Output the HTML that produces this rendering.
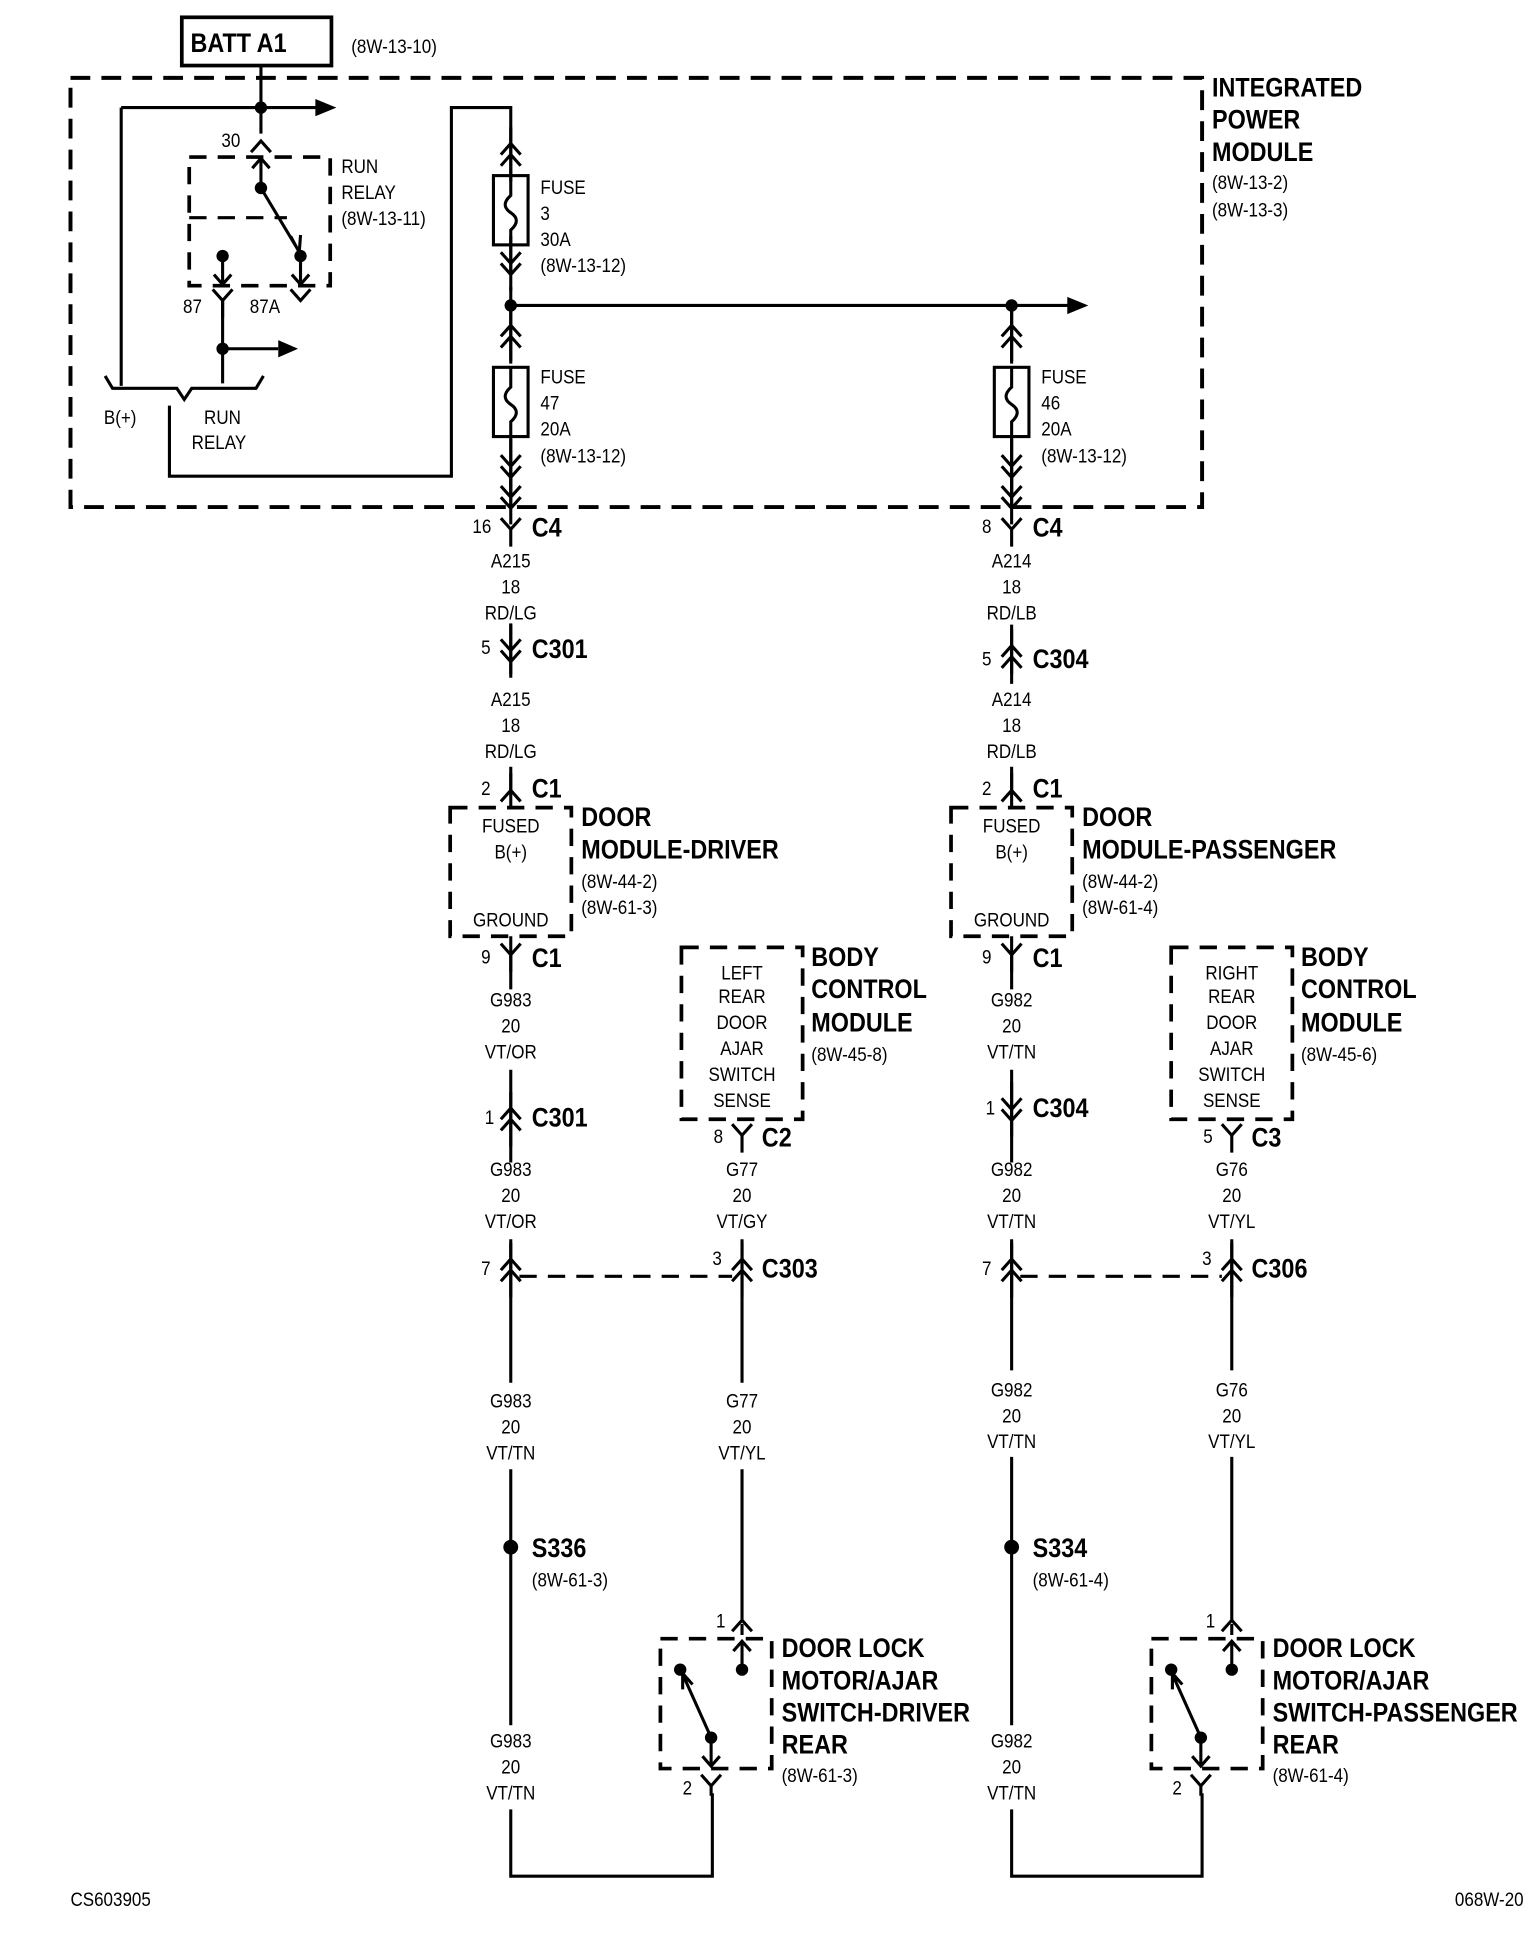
<!DOCTYPE html>
<html><head><meta charset="utf-8"><style>
html,body{margin:0;padding:0;background:#fff;}
svg{display:block;}
text{font-family:"Liberation Sans Narrow","Liberation Sans",sans-serif;fill:#000;transform-box:fill-box;transform-origin:0 50%;transform:scaleX(.86);}
text.m{transform-origin:50% 50%;}
text.e{transform-origin:100% 50%;}
.s{font-size:16px;}
.b{font-size:22px;font-weight:bold;}
.m{text-anchor:middle;}
</style></head><body>
<svg width="1536" height="1938" viewBox="0 0 1242 1567" preserveAspectRatio="none" xmlns="http://www.w3.org/2000/svg">
<defs>
<g id="Y" fill="none" stroke="#000" stroke-width="2.5"><path d="M-8,-9 L0,0 L8,-9 M0,0 V14"/></g>
<g id="L" fill="none" stroke="#000" stroke-width="2.5"><path d="M-8,9 L0,0 L8,9 M0,0 V-14"/></g>
<g id="UU" fill="none" stroke="#000" stroke-width="2.5"><path d="M-8,0 L0,-9 L8,0 M-8,9 L0,0 L8,9 M0,-22 V22"/></g>
<g id="DD" fill="none" stroke="#000" stroke-width="2.5"><path d="M-8,0 L0,9 L8,0 M-8,-9 L0,0 L8,-9 M0,-22 V22"/></g>
<g id="U" fill="none" stroke="#000" stroke-width="2.5"><path d="M-8,6 L0,-3 L8,6"/></g>
<g id="V" fill="none" stroke="#000" stroke-width="2.5"><path d="M-8,-6 L0,3 L8,-6"/></g>
<g id="fuse" fill="none" stroke="#000" stroke-width="2.5"><rect x="-14" y="0" width="28" height="56"/><path d="M0,0 V16 Q-9,24 0,30 Q9,36 0,44 V56"/></g>
</defs>
<g fill="none" stroke="#000" stroke-width="2.5">
<rect x="147" y="14" width="121" height="39" stroke-width="3"/>
<rect x="57" y="63" width="915" height="347" stroke-width="3.2" stroke-dasharray="16,9"/>
<path d="M211,53 V108"/>
<path d="M98,87 H258"/>
<path d="M98,87 V312"/>
<rect x="153" y="127" width="114" height="104" stroke-width="3" stroke-dasharray="14,9"/>
<path d="M153,176 H232" stroke-dasharray="14,9"/>
<path d="M211,152 V128 M204,136 L211,128 L218,136"/>
<path d="M211,152 L241,202 M235,191 L242,204 L243,190"/>
<path d="M180,207 V230 M173,222 L180,230 L187,222"/>
<path d="M243,207 V230 M236,222 L243,230 L250,222"/>
<path d="M180,243 V310"/>
<path d="M180,282 H225"/>
<path d="M85,304 L91,314 H143 L149,323 L155,314 H207 L213,304"/>
<path d="M137,328 V385 H365 V87 H413 V130"/>
<path d="M413,130 V142 M413,198 V222"/>
<path d="M413,232 V292 M413,352 V410"/>
<path d="M413,247 H865"/>
<path d="M818,252 V292 M818,352 V410"/>
</g>
<g fill="#000">
<circle cx="211" cy="87" r="5"/><circle cx="211" cy="152" r="5"/><circle cx="180" cy="207" r="5"/><circle cx="243" cy="207" r="5"/><circle cx="180" cy="282" r="5"/>
<circle cx="413" cy="247" r="5"/><circle cx="818" cy="247" r="5"/>
<path d="M255,80 L272,87 L255,94Z"/><path d="M225,275 L241,282 L225,289Z"/><path d="M863,240 L880,247 L863,254Z"/>
</g>
<use href="#U" x="211" y="117"/>
<use href="#Y" x="180" y="243"/>
<use href="#V" x="243" y="240"/>
<use href="#fuse" x="413" y="142"/><use href="#fuse" x="413" y="297"/><use href="#fuse" x="818" y="297"/>
<use href="#UU" x="413" y="125"/><use href="#DD" x="413" y="213"/>
<use href="#UU" x="413" y="272"/><use href="#DD" x="413" y="377"/>
<use href="#UU" x="818" y="272"/><use href="#DD" x="818" y="377"/>
<use href="#DD" x="413" y="402"/><use href="#DD" x="818" y="402"/>

<g fill="none" stroke="#000" stroke-width="2.5">
<path d="M413,505 V545 M413,620 V653 M413,757 V800 M413,865 V940 M413,1002 V1118 M413,1188 V1395 M413,1463 V1517 H576 V1450"/>
<path d="M818,505 V545 M818,620 V653 M818,757 V800 M818,865 V940 M818,1002 V1108 M818,1178 V1395 M818,1463 V1517 H972 V1450"/>
<path d="M600,1002 V1118 M600,1188 V1312"/>
<path d="M996,1002 V1108 M996,1178 V1312"/>
<path d="M420,1032 H592 M825,1032 H988" stroke-dasharray="14,9"/>
<rect x="364" y="653" width="98" height="104" stroke-width="3" stroke-dasharray="14,9"/>
<rect x="769" y="653" width="98" height="104" stroke-width="3" stroke-dasharray="14,9"/>
<rect x="551" y="766" width="98" height="139" stroke-width="3" stroke-dasharray="14,9"/>
<rect x="947" y="766" width="98" height="139" stroke-width="3" stroke-dasharray="14,9"/>
<rect x="534" y="1325" width="90" height="105" stroke-width="3" stroke-dasharray="14,9"/>
<rect x="931" y="1325" width="90" height="105" stroke-width="3" stroke-dasharray="14,9"/>
<path d="M600,1350 V1327 M593,1335 L600,1327 L607,1335"/>
<path d="M575,1405 L553,1356 M552,1366 L552,1353 L560,1362"/>
<path d="M575,1405 V1428 M568,1420 L575,1428 L582,1420"/>
<path d="M996,1350 V1327 M989,1335 L996,1327 L1003,1335"/>
<path d="M971,1405 L949,1356 M948,1366 L948,1353 L956,1362"/>
<path d="M971,1405 V1428 M964,1420 L971,1428 L978,1420"/>
</g>
<g fill="#000">
<circle cx="413" cy="1251" r="6"/><circle cx="818" cy="1251" r="6"/>
<circle cx="600" cy="1350" r="5"/><circle cx="550" cy="1350" r="5"/><circle cx="575" cy="1405" r="5"/>
<circle cx="996" cy="1350" r="5"/><circle cx="947" cy="1350" r="5"/><circle cx="971" cy="1405" r="5"/>
</g>
<use href="#Y" x="413" y="428"/><use href="#Y" x="818" y="428"/>
<use href="#DD" x="413" y="526"/><use href="#UU" x="818" y="531"/>
<use href="#L" x="413" y="639"/><use href="#L" x="818" y="639"/>
<use href="#Y" x="413" y="772"/><use href="#Y" x="818" y="772"/>
<use href="#UU" x="413" y="905"/><use href="#DD" x="818" y="897"/>
<use href="#Y" x="600" y="918"/><use href="#Y" x="996" y="918"/>
<use href="#UU" x="413" y="1027"/><use href="#UU" x="600" y="1027"/>
<use href="#UU" x="818" y="1027"/><use href="#UU" x="996" y="1027"/>
<use href="#U" x="600" y="1313"/><use href="#U" x="996" y="1313"/>
<use href="#V" x="575" y="1441"/><use href="#V" x="971" y="1441"/>
<g fill="none" stroke="#000" stroke-width="2.5"><path d="M600,1313 V1322 M996,1313 V1322 M575,1444 V1452 M971,1444 V1452"/></g>

<text class="b" x="154" y="42">BATT A1</text>
<text class="s" x="284" y="43">(8W-13-10)</text>
<text class="b" x="980" y="78">INTEGRATED</text>
<text class="b" x="980" y="104">POWER</text>
<text class="b" x="980" y="130">MODULE</text>
<text class="s" x="980" y="153">(8W-13-2)</text>
<text class="s" x="980" y="175">(8W-13-3)</text>
<text class="s" x="179" y="119">30</text>
<text class="s" x="276" y="140">RUN</text>
<text class="s" x="276" y="161">RELAY</text>
<text class="s" x="276" y="182">(8W-13-11)</text>
<text class="s" x="148" y="253">87</text>
<text class="s" x="202" y="253">87A</text>
<text class="s" x="84" y="343">B(+)</text>
<text class="s" x="165" y="343">RUN</text>
<text class="s" x="155" y="363">RELAY</text>
<text class="s" x="437" y="157">FUSE</text><text class="s" x="437" y="178">3</text><text class="s" x="437" y="199">30A</text><text class="s" x="437" y="220">(8W-13-12)</text>
<text class="s" x="437" y="310">FUSE</text><text class="s" x="437" y="331">47</text><text class="s" x="437" y="352">20A</text><text class="s" x="437" y="374">(8W-13-12)</text>
<text class="s" x="842" y="310">FUSE</text><text class="s" x="842" y="331">46</text><text class="s" x="842" y="352">20A</text><text class="s" x="842" y="374">(8W-13-12)</text>

<text class="s" x="382" y="431">16</text><text class="b" x="430" y="434">C4</text>
<text class="s" x="794" y="431">8</text><text class="b" x="835" y="434">C4</text>
<text class="s m" x="413" y="459">A215</text><text class="s m" x="413" y="480">18</text><text class="s m" x="413" y="501">RD/LG</text>
<text class="s m" x="413" y="571">A215</text><text class="s m" x="413" y="592">18</text><text class="s m" x="413" y="613">RD/LG</text>
<text class="s m" x="818" y="459">A214</text><text class="s m" x="818" y="480">18</text><text class="s m" x="818" y="501">RD/LB</text>
<text class="s m" x="818" y="571">A214</text><text class="s m" x="818" y="592">18</text><text class="s m" x="818" y="613">RD/LB</text>
<text class="s m" x="413" y="814">G983</text><text class="s m" x="413" y="835">20</text><text class="s m" x="413" y="856">VT/OR</text>
<text class="s m" x="413" y="951">G983</text><text class="s m" x="413" y="972">20</text><text class="s m" x="413" y="993">VT/OR</text>
<text class="s m" x="818" y="814">G982</text><text class="s m" x="818" y="835">20</text><text class="s m" x="818" y="856">VT/TN</text>
<text class="s m" x="818" y="951">G982</text><text class="s m" x="818" y="972">20</text><text class="s m" x="818" y="993">VT/TN</text>
<text class="s m" x="600" y="951">G77</text><text class="s m" x="600" y="972">20</text><text class="s m" x="600" y="993">VT/GY</text>
<text class="s m" x="996" y="951">G76</text><text class="s m" x="996" y="972">20</text><text class="s m" x="996" y="993">VT/YL</text>
<text class="s m" x="413" y="1138">G983</text><text class="s m" x="413" y="1159">20</text><text class="s m" x="413" y="1180">VT/TN</text>
<text class="s m" x="600" y="1138">G77</text><text class="s m" x="600" y="1159">20</text><text class="s m" x="600" y="1180">VT/YL</text>
<text class="s m" x="818" y="1129">G982</text><text class="s m" x="818" y="1150">20</text><text class="s m" x="818" y="1171">VT/TN</text>
<text class="s m" x="996" y="1129">G76</text><text class="s m" x="996" y="1150">20</text><text class="s m" x="996" y="1171">VT/YL</text>
<text class="s m" x="413" y="1413">G983</text><text class="s m" x="413" y="1434">20</text><text class="s m" x="413" y="1455">VT/TN</text>
<text class="s m" x="818" y="1413">G982</text><text class="s m" x="818" y="1434">20</text><text class="s m" x="818" y="1455">VT/TN</text>
<text class="s m" x="413" y="673">FUSED</text><text class="s m" x="413" y="694">B(+)</text><text class="s m" x="413" y="749">GROUND</text>
<text class="s m" x="818" y="673">FUSED</text><text class="s m" x="818" y="694">B(+)</text><text class="s m" x="818" y="749">GROUND</text>
<text class="s m" x="600" y="792">LEFT</text><text class="s m" x="600" y="811">REAR</text><text class="s m" x="600" y="832">DOOR</text><text class="s m" x="600" y="853">AJAR</text><text class="s m" x="600" y="874">SWITCH</text><text class="s m" x="600" y="895">SENSE</text>
<text class="s m" x="996" y="792">RIGHT</text><text class="s m" x="996" y="811">REAR</text><text class="s m" x="996" y="832">DOOR</text><text class="s m" x="996" y="853">AJAR</text><text class="s m" x="996" y="874">SWITCH</text><text class="s m" x="996" y="895">SENSE</text>
<text class="s" x="389" y="529">5</text><text class="b" x="430" y="532">C301</text>
<text class="s" x="794" y="538">5</text><text class="b" x="835" y="540">C304</text>
<text class="s" x="389" y="643">2</text><text class="b" x="430" y="645">C1</text>
<text class="s" x="794" y="643">2</text><text class="b" x="835" y="645">C1</text>
<text class="s" x="389" y="779">9</text><text class="b" x="430" y="782">C1</text>
<text class="s" x="794" y="779">9</text><text class="b" x="835" y="782">C1</text>
<text class="s" x="392" y="909">1</text><text class="b" x="430" y="911">C301</text>
<text class="s" x="797" y="901">1</text><text class="b" x="835" y="903">C304</text>
<text class="s" x="577" y="924">8</text><text class="b" x="616" y="927">C2</text>
<text class="s" x="973" y="924">5</text><text class="b" x="1012" y="927">C3</text>
<text class="s" x="389" y="1031">7</text><text class="s" x="576" y="1023">3</text><text class="b" x="616" y="1033">C303</text>
<text class="s" x="794" y="1031">7</text><text class="s" x="972" y="1023">3</text><text class="b" x="1012" y="1033">C306</text>
<text class="s" x="579" y="1316">1</text><text class="s" x="975" y="1316">1</text>
<text class="s" x="552" y="1451">2</text><text class="s" x="948" y="1451">2</text>
<text class="b" x="430" y="1259">S336</text><text class="s" x="430" y="1283">(8W-61-3)</text>
<text class="b" x="835" y="1259">S334</text><text class="s" x="835" y="1283">(8W-61-4)</text>
<text class="b" x="470" y="668">DOOR</text><text class="b" x="470" y="694">MODULE-DRIVER</text><text class="s" x="470" y="718">(8W-44-2)</text><text class="s" x="470" y="739">(8W-61-3)</text>
<text class="b" x="875" y="668">DOOR</text><text class="b" x="875" y="694">MODULE-PASSENGER</text><text class="s" x="875" y="718">(8W-44-2)</text><text class="s" x="875" y="739">(8W-61-4)</text>
<text class="b" x="656" y="781">BODY</text><text class="b" x="656" y="807">CONTROL</text><text class="b" x="656" y="834">MODULE</text><text class="s" x="656" y="858">(8W-45-8)</text>
<text class="b" x="1052" y="781">BODY</text><text class="b" x="1052" y="807">CONTROL</text><text class="b" x="1052" y="834">MODULE</text><text class="s" x="1052" y="858">(8W-45-6)</text>
<text class="b" x="632" y="1340">DOOR LOCK</text><text class="b" x="632" y="1366">MOTOR/AJAR</text><text class="b" x="632" y="1392">SWITCH-DRIVER</text><text class="b" x="632" y="1418">REAR</text><text class="s" x="632" y="1441">(8W-61-3)</text>
<text class="b" x="1029" y="1340">DOOR LOCK</text><text class="b" x="1029" y="1366">MOTOR/AJAR</text><text class="b" x="1029" y="1392">SWITCH-PASSENGER</text><text class="b" x="1029" y="1418">REAR</text><text class="s" x="1029" y="1441">(8W-61-4)</text>
<text class="s" x="57" y="1541">CS603905</text>
<text class="s e" x="1232" y="1541" text-anchor="end">068W-20</text>
</svg>
</body></html>
